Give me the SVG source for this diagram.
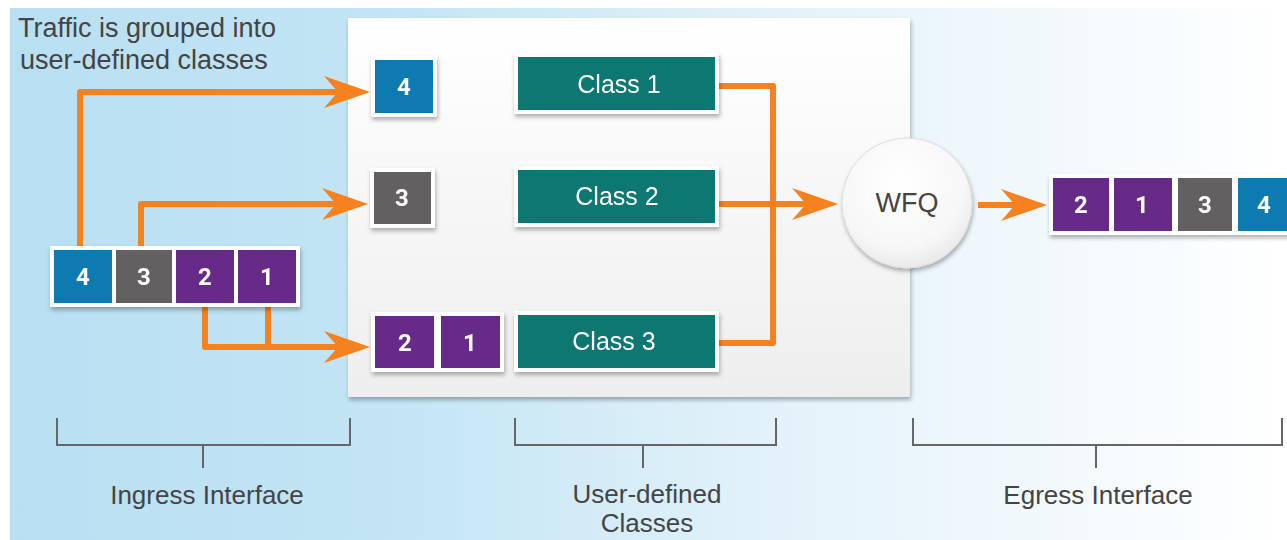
<svg xmlns="http://www.w3.org/2000/svg" width="1287" height="540" viewBox="0 0 1287 540">
<defs>
<linearGradient id="bg" x1="0" y1="0" x2="1" y2="0">
<stop offset="0" stop-color="#b8dff2"/>
<stop offset="0.3" stop-color="#c3e5f5"/>
<stop offset="0.6" stop-color="#e3f2fa"/>
<stop offset="1" stop-color="#ffffff"/>
</linearGradient>
<linearGradient id="panel" x1="0" y1="0" x2="0" y2="1">
<stop offset="0" stop-color="#ffffff"/>
<stop offset="1" stop-color="#eeeeee"/>
</linearGradient>
<radialGradient id="circ" cx="0.45" cy="0.35" r="0.7">
<stop offset="0" stop-color="#ffffff"/>
<stop offset="0.7" stop-color="#f7f7f7"/>
<stop offset="1" stop-color="#e6e6e6"/>
</radialGradient>
<filter id="sh" x="-20%" y="-20%" width="140%" height="150%">
<feDropShadow dx="1" dy="3" stdDeviation="2" flood-color="#000" flood-opacity="0.3"/>
</filter>
<marker id="ah" viewBox="0 0 46 32" refX="26" refY="16" markerWidth="46" markerHeight="32" markerUnits="userSpaceOnUse" orient="auto">
<path d="M0,0 L46,16 L0,32 L14,16 Z" fill="#f5821f"/>
</marker>
</defs>
<style>
.pk{stroke:#fff;stroke-width:4;}
.blue{fill:#0a7ab2;}
.gray{fill:#646162;}
.purple{fill:#672a89;}
.teal{fill:#0b7872;stroke:#fff;stroke-width:4;}
.num{font-family:Roboto,"Liberation Sans",sans-serif;font-weight:bold;font-size:24px;fill:#fff;text-anchor:middle;}
.cls{font-family:"Liberation Sans",Arial,sans-serif;font-size:25px;fill:#fff;text-anchor:middle;}
.lab{font-family:"Liberation Sans",Arial,sans-serif;font-size:27px;fill:#444;}
.lbl{font-family:"Liberation Sans",Arial,sans-serif;font-size:26px;fill:#444;text-anchor:middle;}
.conn{fill:none;stroke:#f5821f;stroke-width:6;stroke-linejoin:round;}
.br{fill:none;stroke:#666;stroke-width:2;}
</style>
<rect x="0" y="0" width="1287" height="540" fill="#ffffff"/>
<rect x="10" y="8" width="1277" height="532" fill="url(#bg)"/>
<rect x="348" y="18" width="562" height="379" fill="url(#panel)" filter="url(#sh)"/>

<g id="connectors">
<polyline class="conn" points="80,247 80,92 350,92" marker-end="url(#ah)"/>
<polyline class="conn" points="141,247 141,204 348,204" marker-end="url(#ah)"/>
<polyline class="conn" points="205,305 205,347 350,347" marker-end="url(#ah)"/>
<line class="conn" x1="268" y1="305" x2="268" y2="347"/>
<polyline class="conn" points="717,86 773,86 773,343 717,343"/>
<line class="conn" x1="717" y1="204" x2="818" y2="204" marker-end="url(#ah)"/>
<line class="conn" x1="978" y1="205" x2="1027" y2="205" marker-end="url(#ah)"/>
</g>

<text class="lab" x="18" y="37">Traffic is grouped into</text>
<text class="lab" x="20" y="69">user-defined classes</text>

<g id="ingress" filter="url(#sh)">
<rect class="pk blue" x="52" y="248" width="62" height="57"/>
<text class="num" x="83" y="285">4</text>
<rect class="pk gray" x="114" y="248" width="60" height="57"/>
<text class="num" x="144" y="285">3</text>
<rect class="pk purple" x="174" y="248" width="62" height="57"/>
<text class="num" x="205" y="285">2</text>
<rect class="pk purple" x="236" y="248" width="62" height="57"/>
<text class="num" x="267" y="285">1</text>
</g>

<g id="q4" filter="url(#sh)">
<rect class="pk blue" x="373" y="58" width="62" height="57"/>
<text class="num" x="404" y="95">4</text>
</g>
<g id="q3" filter="url(#sh)">
<rect class="pk gray" x="372" y="170" width="61" height="56"/>
<text class="num" x="402" y="206">3</text>
</g>
<g id="q21" filter="url(#sh)">
<rect class="pk purple" x="373" y="314" width="63" height="56"/>
<text class="num" x="405" y="351">2</text>
<rect class="pk purple" x="439" y="314" width="63" height="56"/>
<text class="num" x="470" y="351">1</text>
</g>

<g id="class1" filter="url(#sh)">
<rect class="teal" x="516" y="55" width="201" height="57"/>
<text class="cls" x="619" y="93">Class 1</text>
</g>
<g id="class2" filter="url(#sh)">
<rect class="teal" x="516" y="168" width="201" height="57"/>
<text class="cls" x="617" y="205">Class 2</text>
</g>
<g id="class3" filter="url(#sh)">
<rect class="teal" x="516" y="313" width="201" height="57"/>
<text class="cls" x="614" y="350">Class 3</text>
</g>

<g id="wfq">
<circle cx="907" cy="203" r="65" fill="url(#circ)" stroke="#dddddd" stroke-width="1" filter="url(#sh)"/>
<text class="lab" x="907" y="212" text-anchor="middle" font-size="25">WFQ</text>
</g>

<g id="egress" filter="url(#sh)">
<rect class="pk purple" x="1051" y="176" width="60" height="57"/>
<text class="num" x="1081" y="213">2</text>
<rect class="pk purple" x="1112" y="176" width="62" height="57"/>
<text class="num" x="1142" y="213">1</text>
<rect class="pk gray" x="1176" y="176" width="58" height="57"/>
<text class="num" x="1205" y="213">3</text>
<rect class="pk blue" x="1236" y="176" width="60" height="57"/>
<text class="num" x="1264" y="213">4</text>
</g>

<g id="brackets">
<path class="br" d="M57,418 V445 H350 V418 M203,445 V468"/>
<path class="br" d="M515,418 V445 H776 V418 M643,445 V468"/>
<path class="br" d="M913,418 V445 H1282 V418 M1096,445 V468"/>
<text class="lbl" x="207" y="504">Ingress Interface</text>
<text class="lbl" x="647" y="503">User-defined</text>
<text class="lbl" x="647" y="532">Classes</text>
<text class="lbl" x="1098" y="504">Egress Interface</text>
</g>
</svg>
